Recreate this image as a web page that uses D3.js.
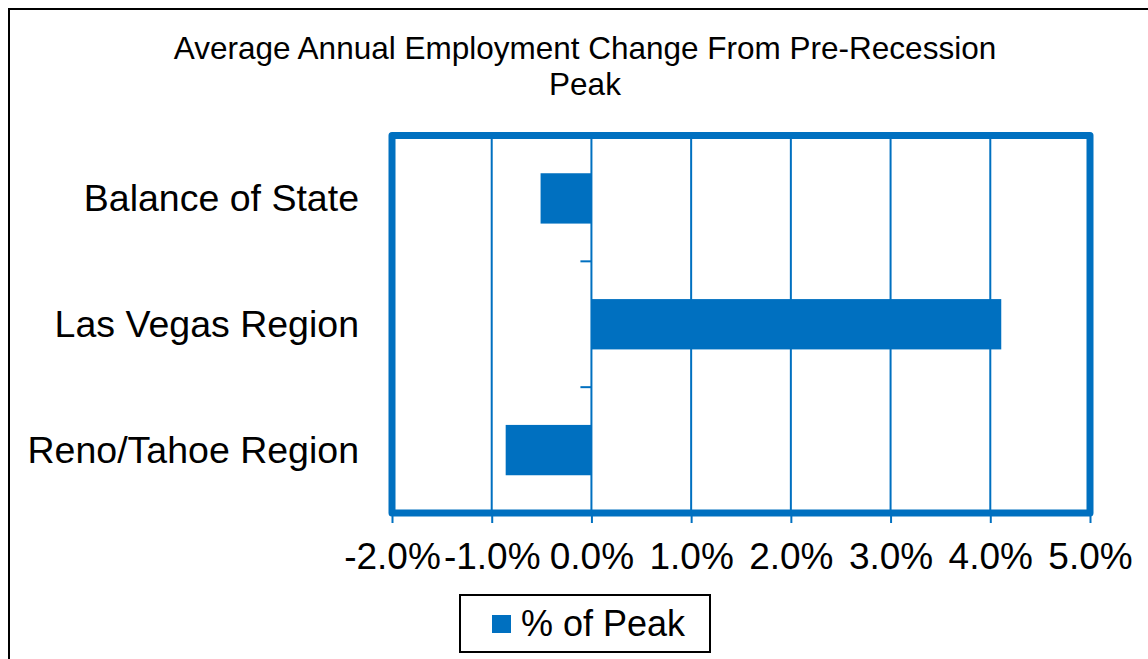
<!DOCTYPE html>
<html>
<head>
<meta charset="utf-8">
<script src="https://cdn.jsdelivr.net/npm/d3@7"></script>
<style>
  body{margin:0;background:#fff;}
  text{font-family:"Liberation Sans",Arial,sans-serif;fill:#000;}
</style>
</head>
<body>
<div id="chart"></div>
<script>
//Chart data
var categories = ["Balance of State", "Las Vegas Region", "Reno/Tahoe Region"];
var values = [-0.51, 4.11, -0.86];
var xTicks = [-2, -1, 0, 1, 2, 3, 4, 5];
var titleLines = ["Average Annual Employment Change From Pre-Recession", "Peak"];
var seriesName = "% of Peak";

var blue = "#0070C0";
var width = 1148, height = 659;
var plot = {left: 392, right: 1090, top: 135.5, bottom: 513};

var svg = d3.select("#chart").append("svg")
    .attr("width", width)
    .attr("height", height);

//Outer frame (only left/top visible)
svg.append("rect")
    .attr("x", 9).attr("y", 9)
    .attr("width", 1160).attr("height", 700)
    .attr("fill", "none")
    .attr("stroke", "#000")
    .attr("stroke-width", 2);

//Title
svg.append("text")
    .attr("text-anchor", "middle")
    .attr("font-size", 31.5)
    .selectAll("tspan")
    .data(titleLines)
    .enter()
    .append("tspan")
    .attr("x", 585)
    .attr("y", function(d, i){ return 59 + i*36; })
    .text(function(d){ return d; });

//Scales
var x = d3.scaleLinear()
    .domain([xTicks[0], xTicks[xTicks.length-1]])
    .range([plot.left, plot.right]);

var y = d3.scaleBand()
    .domain(categories)
    .range([plot.top, plot.bottom]);

var barH = y.bandwidth() * 0.4;

//Gridlines
svg.append("g")
    .selectAll("line")
    .data(xTicks.slice(1, -1))
    .enter()
    .append("line")
    .attr("x1", function(d){ return x(d); })
    .attr("x2", function(d){ return x(d); })
    .attr("y1", plot.top)
    .attr("y2", plot.bottom)
    .attr("stroke", blue)
    .attr("stroke-width", 2);

//Bars
svg.append("g")
    .selectAll("rect")
    .data(categories)
    .enter()
    .append("rect")
    .attr("x", function(d, i){ return x(Math.min(0, values[i])); })
    .attr("width", function(d, i){ return Math.abs(x(values[i]) - x(0)); })
    .attr("y", function(d){ return y(d) + (y.bandwidth() - barH)/2; })
    .attr("height", barH)
    .attr("fill", blue);

//Category axis ticks at zero
var boundaries = categories.slice(1).map(function(d){ return y(d); });
svg.append("g")
    .selectAll("line")
    .data(boundaries)
    .enter()
    .append("line")
    .attr("x1", x(0) - 11)
    .attr("x2", x(0))
    .attr("y1", function(d){ return d; })
    .attr("y2", function(d){ return d; })
    .attr("stroke", blue)
    .attr("stroke-width", 2);

//Category labels
svg.append("g")
    .selectAll("text")
    .data(categories)
    .enter()
    .append("text")
    .attr("x", 359)
    .attr("y", function(d){ return y(d) + y.bandwidth()/2 + 13; })
    .attr("text-anchor", "end")
    .attr("font-size", 37.5)
    .text(function(d){ return d; });

//Plot border
svg.append("rect")
    .attr("x", plot.left)
    .attr("y", plot.top)
    .attr("width", plot.right - plot.left)
    .attr("height", plot.bottom - plot.top)
    .attr("fill", "none")
    .attr("stroke", blue)
    .attr("stroke-width", 7)
    .attr("stroke-linejoin", "round");

//X axis
var xAxis = svg.append("g")
    .attr("transform", "translate(0," + plot.bottom + ")")
    .call(d3.axisBottom(x)
        .tickValues(xTicks)
        .tickSize(10)
        .tickPadding(20)
        .tickFormat(function(d){ return d.toFixed(1) + "%"; })
    );
xAxis.select(".domain").remove();
xAxis.selectAll(".tick line").attr("stroke", blue).attr("stroke-width", 2);
xAxis.selectAll(".tick text")
    .attr("font-size", 37)
    .attr("font-family", "Liberation Sans, Arial, sans-serif")
    .attr("fill", "#000");

//Legend
var legend = svg.append("g");
legend.append("rect")
    .attr("x", 460).attr("y", 595)
    .attr("width", 250).attr("height", 57)
    .attr("fill", "#fff")
    .attr("stroke", "#000")
    .attr("stroke-width", 2);
legend.append("rect")
    .attr("x", 492).attr("y", 615)
    .attr("width", 19).attr("height", 18)
    .attr("fill", blue);
legend.append("text")
    .attr("x", 521).attr("y", 636)
    .attr("font-size", 36)
    .text(seriesName);
</script>
</body>
</html>
